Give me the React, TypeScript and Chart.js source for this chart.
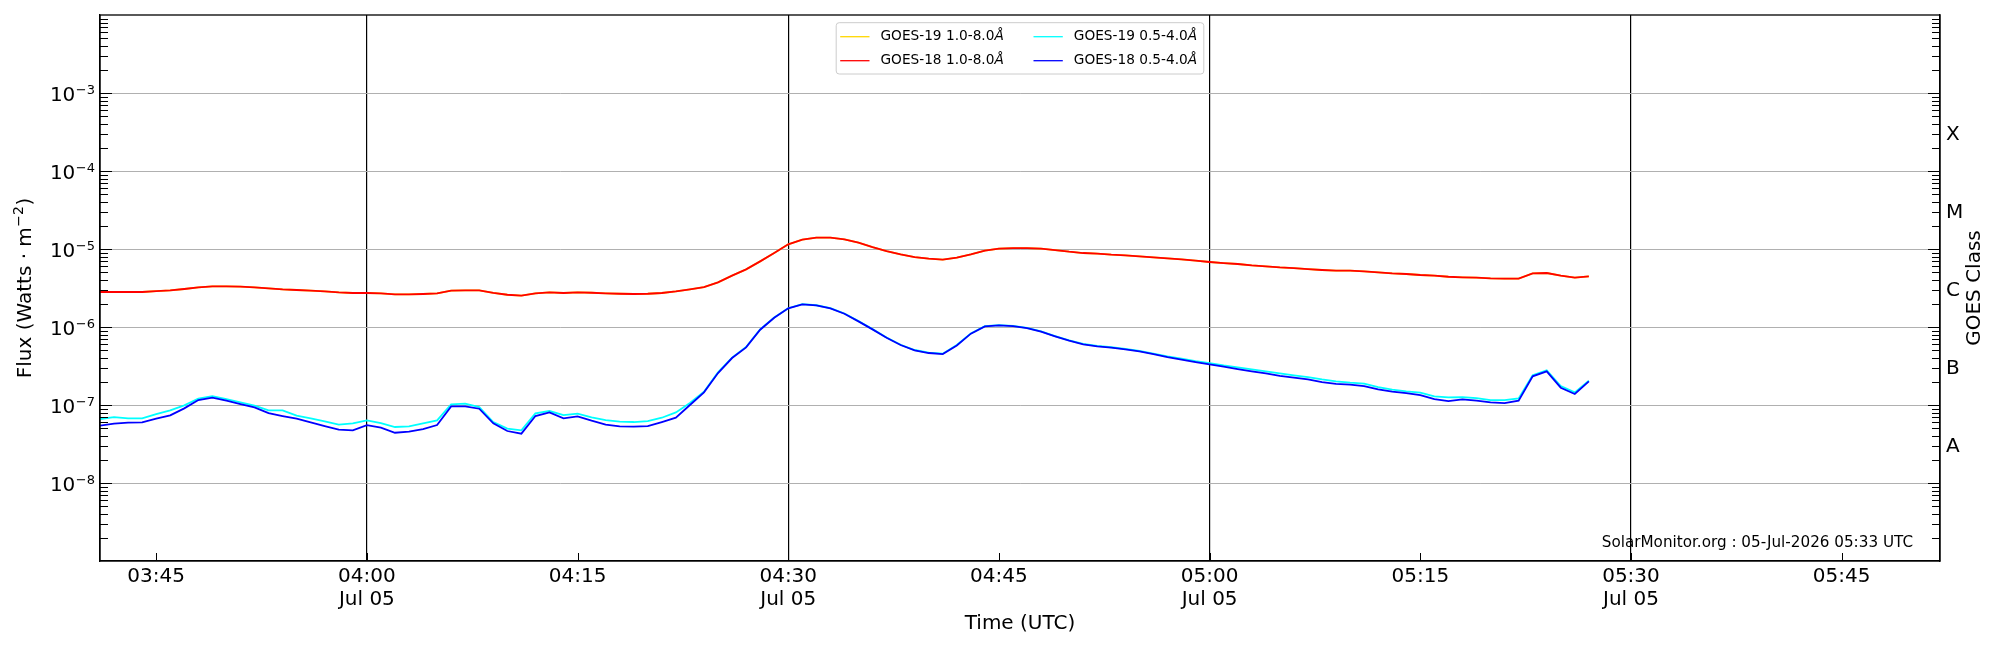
import React, { useEffect, useRef } from 'react';
import { Chart, registerables } from 'chart.js';

Chart.register(...registerables);

// ---------- data ----------
const START_TIME = '03:41';
const CADENCE_MIN = 1;
const X_MIN_TIME = '03:41';
const X_MAX_TIME = '05:52';
const TICK_TIMES = ['03:45', '04:00', '04:15', '04:30', '04:45', '05:00', '05:15', '05:30', '05:45'];
const DATED_TICKS = ['04:00', '04:30', '05:00', '05:30'];
const DATE_LABEL = 'Jul 05';

const Y_MIN = 1e-9;
const Y_MAX = 1e-2;
const Y_TICKS = [1e-8, 1e-7, 1e-6, 1e-5, 1e-4, 1e-3];
const Y_TICK_BASE = '10';
const Y_TICK_EXPONENTS = ['−8', '−7', '−6', '−5', '−4', '−3'];
const CLASS_POSITIONS = [3e-8, 3e-7, 3e-6, 3e-5, 3e-4];
const CLASS_LABELS = ['A', 'B', 'C', 'M', 'X'];

const SERIES_LABELS = ['GOES-19 1.0-8.0', 'GOES-18 1.0-8.0', 'GOES-19 0.5-4.0', 'GOES-18 0.5-4.0'];
const SERIES_UNIT = 'Å';
const SERIES_COLORS = ['#ffd700', '#ff0000', '#00ffff', '#0000ff'];

const GOES19_LONG = [
  2.81e-6, 2.81e-6, 2.81e-6, 2.81e-6, 2.89e-6, 2.95e-6, 3.07e-6, 3.22e-6, 3.32e-6, 3.32e-6,
  3.29e-6, 3.22e-6, 3.13e-6, 3.04e-6, 2.98e-6, 2.92e-6, 2.86e-6, 2.78e-6, 2.73e-6, 2.73e-6,
  2.70e-6, 2.62e-6, 2.62e-6, 2.65e-6, 2.70e-6, 2.92e-6, 2.95e-6, 2.95e-6, 2.73e-6, 2.59e-6,
  2.52e-6, 2.70e-6, 2.78e-6, 2.73e-6, 2.78e-6, 2.75e-6, 2.70e-6, 2.67e-6, 2.65e-6, 2.67e-6,
  2.73e-6, 2.86e-6, 3.04e-6, 3.25e-6, 3.73e-6, 4.55e-6, 5.48e-6, 6.94e-6, 8.88e-6, 1.147e-5,
  1.316e-5, 1.396e-5, 1.396e-5, 1.329e-5, 1.205e-5, 1.06e-5, 9.42e-6, 8.53e-6, 7.89e-6, 7.51e-6,
  7.29e-6, 7.73e-6, 8.53e-6, 9.51e-6, 1.009e-5, 1.029e-5, 1.029e-5, 1.009e-5, 9.70e-6, 9.23e-6,
  8.88e-6, 8.70e-6, 8.45e-6, 8.29e-6, 8.05e-6, 7.81e-6, 7.58e-6, 7.36e-6, 7.08e-6, 6.81e-6,
  6.61e-6, 6.42e-6, 6.17e-6, 5.99e-6, 5.81e-6, 5.70e-6, 5.53e-6, 5.38e-6, 5.27e-6, 5.27e-6,
  5.17e-6, 5.02e-6, 4.87e-6, 4.78e-6, 4.64e-6, 4.55e-6, 4.41e-6, 4.33e-6, 4.29e-6, 4.20e-6,
  4.16e-6, 4.16e-6, 4.87e-6, 4.92e-6, 4.55e-6, 4.29e-6, 4.47e-6,
];

const GOES18_LONG = [
  2.81e-6, 2.81e-6, 2.81e-6, 2.81e-6, 2.89e-6, 2.95e-6, 3.07e-6, 3.22e-6, 3.32e-6, 3.32e-6,
  3.29e-6, 3.22e-6, 3.13e-6, 3.04e-6, 2.98e-6, 2.92e-6, 2.86e-6, 2.78e-6, 2.73e-6, 2.73e-6,
  2.70e-6, 2.62e-6, 2.62e-6, 2.65e-6, 2.70e-6, 2.92e-6, 2.95e-6, 2.95e-6, 2.73e-6, 2.59e-6,
  2.52e-6, 2.70e-6, 2.78e-6, 2.73e-6, 2.78e-6, 2.75e-6, 2.70e-6, 2.67e-6, 2.65e-6, 2.67e-6,
  2.73e-6, 2.86e-6, 3.04e-6, 3.25e-6, 3.73e-6, 4.55e-6, 5.48e-6, 6.94e-6, 8.88e-6, 1.147e-5,
  1.316e-5, 1.396e-5, 1.396e-5, 1.329e-5, 1.205e-5, 1.06e-5, 9.42e-6, 8.53e-6, 7.89e-6, 7.51e-6,
  7.29e-6, 7.73e-6, 8.53e-6, 9.51e-6, 1.009e-5, 1.029e-5, 1.029e-5, 1.009e-5, 9.70e-6, 9.23e-6,
  8.88e-6, 8.70e-6, 8.45e-6, 8.29e-6, 8.05e-6, 7.81e-6, 7.58e-6, 7.36e-6, 7.08e-6, 6.81e-6,
  6.61e-6, 6.42e-6, 6.17e-6, 5.99e-6, 5.81e-6, 5.70e-6, 5.53e-6, 5.38e-6, 5.27e-6, 5.27e-6,
  5.17e-6, 5.02e-6, 4.87e-6, 4.78e-6, 4.64e-6, 4.55e-6, 4.41e-6, 4.33e-6, 4.29e-6, 4.20e-6,
  4.16e-6, 4.16e-6, 4.87e-6, 4.92e-6, 4.55e-6, 4.29e-6, 4.47e-6,
];

const GOES19_SHORT = [
  6.61e-8, 7.01e-8, 6.74e-8, 6.74e-8, 7.66e-8, 8.53e-8, 9.89e-8, 1.204e-7, 1.302e-7, 1.192e-7,
  1.081e-7, 9.79e-8, 8.53e-8, 8.53e-8, 7.29e-8, 6.74e-8, 6.17e-8, 5.59e-8, 5.81e-8, 6.35e-8,
  5.87e-8, 5.22e-8, 5.32e-8, 5.81e-8, 6.35e-8, 1.019e-7, 1.039e-7, 9.42e-8, 6.05e-8, 4.97e-8,
  4.73e-8, 7.81e-8, 8.37e-8, 7.43e-8, 7.73e-8, 6.94e-8, 6.41e-8, 6.11e-8, 6.05e-8, 6.23e-8,
  6.87e-8, 8.04e-8, 1.06e-7, 1.481e-7, 2.62e-7, 4.05e-7, 5.55e-7, 9.3e-7, 1.32e-6, 1.74e-6,
  1.96e-6, 1.90e-6, 1.74e-6, 1.49e-6, 1.19e-6, 9.4e-7, 7.35e-7, 5.92e-7, 5.07e-7, 4.69e-7,
  4.55e-7, 5.87e-7, 8.28e-7, 1.025e-6, 1.055e-6, 1.035e-6, 9.77e-7, 8.77e-7, 7.65e-7, 6.74e-7,
  6.06e-7, 5.72e-7, 5.50e-7, 5.24e-7, 4.93e-7, 4.55e-7, 4.20e-7, 3.92e-7, 3.66e-7, 3.45e-7,
  3.22e-7, 3.04e-7, 2.86e-7, 2.70e-7, 2.54e-7, 2.40e-7, 2.28e-7, 2.13e-7, 2.01e-7, 1.93e-7,
  1.875e-7, 1.70e-7, 1.57e-7, 1.495e-7, 1.438e-7, 1.29e-7, 1.253e-7, 1.265e-7, 1.228e-7, 1.158e-7,
  1.158e-7, 1.216e-7, 2.40e-7, 2.78e-7, 1.75e-7, 1.451e-7, 2.05e-7,
];

const GOES18_SHORT = [
  5.43e-8, 5.76e-8, 5.93e-8, 5.99e-8, 6.67e-8, 7.36e-8, 9.05e-8, 1.158e-7, 1.24e-7, 1.135e-7,
  1.029e-7, 9.32e-8, 7.89e-8, 7.22e-8, 6.67e-8, 5.99e-8, 5.37e-8, 4.82e-8, 4.73e-8, 5.53e-8,
  5.12e-8, 4.41e-8, 4.55e-8, 4.92e-8, 5.53e-8, 9.60e-8, 9.60e-8, 8.96e-8, 5.81e-8, 4.64e-8,
  4.29e-8, 7.22e-8, 8.04e-8, 6.74e-8, 7.15e-8, 6.29e-8, 5.59e-8, 5.32e-8, 5.27e-8, 5.37e-8,
  6.05e-8, 6.87e-8, 9.99e-8, 1.451e-7, 2.57e-7, 4.00e-7, 5.48e-7, 9.23e-7, 1.316e-6, 1.733e-6,
  1.95e-6, 1.894e-6, 1.733e-6, 1.481e-6, 1.181e-6, 9.32e-7, 7.29e-7, 5.87e-7, 5.02e-7, 4.64e-7,
  4.50e-7, 5.81e-7, 8.21e-7, 1.019e-6, 1.049e-6, 1.029e-6, 9.70e-7, 8.70e-7, 7.58e-7, 6.67e-7,
  5.99e-7, 5.65e-7, 5.43e-7, 5.17e-7, 4.87e-7, 4.50e-7, 4.12e-7, 3.81e-7, 3.55e-7, 3.32e-7,
  3.10e-7, 2.89e-7, 2.70e-7, 2.54e-7, 2.37e-7, 2.24e-7, 2.13e-7, 1.97e-7, 1.86e-7, 1.82e-7,
  1.75e-7, 1.586e-7, 1.481e-7, 1.423e-7, 1.342e-7, 1.192e-7, 1.124e-7, 1.181e-7, 1.135e-7, 1.081e-7,
  1.06e-7, 1.135e-7, 2.33e-7, 2.70e-7, 1.666e-7, 1.382e-7, 2.01e-7,
];

const SERIES_VALUES = [GOES19_LONG, GOES18_LONG, GOES19_SHORT, GOES18_SHORT];

const X_TITLE = 'Time (UTC)';
const Y_TITLE_PARTS = ['Flux (Watts · m', '−2', ')'];
const Y2_TITLE = 'GOES Class';
const STAMP = 'SolarMonitor.org : 05-Jul-2026 05:33 UTC';

// ---------- helpers ----------
const FONT = '"DejaVu Sans", "Liberation Sans", sans-serif';
const toMin = (s: string) => {
  const [h, m] = s.split(':').map(Number);
  return h * 60 + m;
};
const fmt = (v: number) => {
  const h = Math.floor(v / 60);
  const m = Math.round(v - h * 60);
  return `${String(h).padStart(2, '0')}:${String(m).padStart(2, '0')}`;
};
const noPad = (s: any) => {
  s.paddingTop = 0;
  s.paddingBottom = 0;
  s.paddingLeft = 0;
  s.paddingRight = 0;
};

const decorPlugin = {
  id: 'decor',
  afterDraw(chart: any) {
    const { ctx, chartArea } = chart;
    const { left, right, top, bottom } = chartArea;
    const ys = chart.scales.y;
    const xs = chart.scales.x;
    ctx.save();

    // minor / major ticks on left & right, pointing inward
    ctx.strokeStyle = '#000';
    ctx.lineWidth = 1;
    for (let e = -9; e <= -2; e++) {
      for (let m = 1; m <= 9; m++) {
        const v = m * Math.pow(10, e);
        if (v <= Y_MIN * 1.001 || v >= Y_MAX * 0.999) continue;
        const py = Math.round(ys.getPixelForValue(v)) + 0.5;
        const len = m === 1 ? 12 : 8;
        ctx.beginPath();
        ctx.moveTo(left, py);
        ctx.lineTo(left + len, py);
        ctx.moveTo(right, py);
        ctx.lineTo(right - len, py);
        ctx.stroke();
      }
    }
    // x ticks, inward
    TICK_TIMES.forEach((t) => {
      const px = Math.round(xs.getPixelForValue(toMin(t))) + 0.5;
      ctx.beginPath();
      ctx.moveTo(px, bottom);
      ctx.lineTo(px, bottom - 8);
      ctx.stroke();
    });

    // frame
    ctx.lineWidth = 1.3;
    ctx.strokeRect(left, top, right - left, bottom - top);

    // y tick labels 10^n
    ctx.fillStyle = '#000';
    ctx.textBaseline = 'alphabetic';
    ctx.textAlign = 'right';
    Y_TICKS.forEach((v, i) => {
      const py = ys.getPixelForValue(v);
      ctx.font = `13px ${FONT}`;
      const ex = Y_TICK_EXPONENTS[i];
      const ew = ctx.measureText(ex).width;
      const xr = left - 5;
      ctx.fillText(ex, xr, py + 0.9);
      ctx.font = `20px ${FONT}`;
      ctx.fillText(Y_TICK_BASE, xr - ew - 0.5, py + 8.4);
    });

    // y title with superscript
    ctx.save();
    ctx.translate(30.5, (top + bottom) / 2);
    ctx.rotate(-Math.PI / 2);
    ctx.textAlign = 'left';
    ctx.textBaseline = 'alphabetic';
    ctx.font = `20px ${FONT}`;
    const w0 = ctx.measureText(Y_TITLE_PARTS[0]).width;
    const w2 = ctx.measureText(Y_TITLE_PARTS[2]).width;
    ctx.font = `14px ${FONT}`;
    const w1 = ctx.measureText(Y_TITLE_PARTS[1]).width;
    const total = w0 + w1 + w2 + 1;
    let x0 = -total / 2;
    ctx.font = `20px ${FONT}`;
    ctx.fillText(Y_TITLE_PARTS[0], x0, 0);
    x0 += w0 + 0.5;
    ctx.font = `14px ${FONT}`;
    ctx.fillText(Y_TITLE_PARTS[1], x0, -8);
    x0 += w1 + 0.5;
    ctx.font = `20px ${FONT}`;
    ctx.fillText(Y_TITLE_PARTS[2], x0, 0);
    ctx.restore();

    // legend
    const cx = (left + right) / 2;
    const bw = 367.6;
    const bh = 51.3;
    const bx = cx - bw / 2;
    const by = top + 7.7;
    ctx.beginPath();
    const r = 3;
    ctx.moveTo(bx + r, by);
    ctx.lineTo(bx + bw - r, by);
    ctx.arcTo(bx + bw, by, bx + bw, by + r, r);
    ctx.lineTo(bx + bw, by + bh - r);
    ctx.arcTo(bx + bw, by + bh, bx + bw - r, by + bh, r);
    ctx.lineTo(bx + r, by + bh);
    ctx.arcTo(bx, by + bh, bx, by + bh - r, r);
    ctx.lineTo(bx, by + r);
    ctx.arcTo(bx, by, bx + r, by, r);
    ctx.closePath();
    ctx.fillStyle = 'rgba(255,255,255,0.8)';
    ctx.fill();
    ctx.strokeStyle = '#cccccc';
    ctx.lineWidth = 1;
    ctx.stroke();

    const colX = [bx + 4, bx + 197.3];
    const rowY = [by + 14, by + 38];
    SERIES_LABELS.forEach((lab, i) => {
      const col = Math.floor(i / 2);
      const row = i % 2;
      const hx = colX[col];
      const hy = rowY[row];
      ctx.strokeStyle = SERIES_COLORS[i];
      ctx.lineWidth = 1.3;
      ctx.beginPath();
      ctx.moveTo(hx, hy);
      ctx.lineTo(hx + 29.3, hy);
      ctx.stroke();
      ctx.fillStyle = '#000';
      ctx.textAlign = 'left';
      ctx.textBaseline = 'middle';
      ctx.font = `13.7px ${FONT}`;
      ctx.fillText(lab, hx + 40.3, hy);
      const w = ctx.measureText(lab).width;
      ctx.font = `italic 13.7px ${FONT}`;
      ctx.fillText(SERIES_UNIT, hx + 40.3 + w, hy);
    });

    // stamp
    ctx.fillStyle = '#000';
    ctx.font = `15.2px ${FONT}`;
    ctx.textAlign = 'right';
    ctx.textBaseline = 'middle';
    ctx.fillText(STAMP, right - 27, bottom - 18);

    // right title
    ctx.translate(right + 35, (top + bottom) / 2);
    ctx.rotate(-Math.PI / 2);
    ctx.font = `20px ${FONT}`;
    ctx.textAlign = 'center';
    ctx.textBaseline = 'middle';
    ctx.fillText(Y2_TITLE, 0, 0);
    ctx.restore();
  },
};

export default function App() {
  const ref = useRef<HTMLCanvasElement | null>(null);
  useEffect(() => {
    if (!ref.current) return;
    Chart.defaults.color = '#000';
    Chart.defaults.font.family = FONT;
    const start = toMin(START_TIME);
    const datasets = SERIES_VALUES.map((vals, i) => ({
      label: SERIES_LABELS[i] + SERIES_UNIT,
      data: vals.map((v, k) => ({ x: start + k * CADENCE_MIN, y: v })),
      borderColor: SERIES_COLORS[i],
      backgroundColor: SERIES_COLORS[i],
      borderWidth: 1.8,
      pointRadius: 0,
      tension: 0,
      fill: false,
      order: 4 - i,
    }));
    const chart = new Chart(ref.current, {
      type: 'line',
      data: { datasets },
      options: {
        animation: false,
        responsive: true,
        maintainAspectRatio: false,
        layout: { padding: { top: 15, left: 0, right: 0, bottom: 0 } },
        plugins: { legend: { display: false }, tooltip: { enabled: false } },
        scales: {
          x: {
            type: 'linear',
            min: toMin(X_MIN_TIME),
            max: toMin(X_MAX_TIME),
            afterBuildTicks: (s: any) => {
              s.ticks = TICK_TIMES.map((t) => ({ value: toMin(t) }));
            },
            afterFit: (s: any) => {
              s.height = 89;
              noPad(s);
            },
            ticks: {
              autoSkip: false,
              maxRotation: 0,
              padding: 4,
              font: { size: 20, lineHeight: 1.15 },
              callback: (v: any) => {
                const s = fmt(Number(v));
                return DATED_TICKS.includes(s) ? [s, DATE_LABEL] : s;
              },
            },
            grid: {
              drawTicks: false,
              color: (c: any) =>
                c.tick && DATED_TICKS.includes(fmt(c.tick.value)) ? '#000' : 'rgba(0,0,0,0)',
              lineWidth: 1.2,
            },
            border: { display: true, color: '#000', width: 1.3 },
            title: {
              display: true,
              text: X_TITLE,
              font: { size: 20, lineHeight: 1.2 },
              padding: { top: 0, bottom: 14 },
            },
          },
          y: {
            type: 'logarithmic',
            position: 'left',
            min: Y_MIN,
            max: Y_MAX,
            afterBuildTicks: (s: any) => {
              s.ticks = Y_TICKS.map((v) => ({ value: v }));
            },
            afterFit: (s: any) => {
              s.width = 100;
              noPad(s);
            },
            ticks: { display: false },
            grid: { drawTicks: false, color: '#b0b0b0', lineWidth: 1 },
            border: { display: true, color: '#000', width: 1.3 },
          },
          y2: {
            type: 'logarithmic',
            position: 'right',
            min: Y_MIN,
            max: Y_MAX,
            afterBuildTicks: (s: any) => {
              s.ticks = CLASS_POSITIONS.map((v) => ({ value: v }));
            },
            afterFit: (s: any) => {
              s.width = 60;
              noPad(s);
            },
            ticks: {
              autoSkip: false,
              padding: 6,
              labelOffset: 1.5,
              font: { size: 20 },
              callback: (_v: any, i: number) => CLASS_LABELS[i],
            },
            grid: { display: false, drawTicks: false },
            border: { display: true, color: '#000', width: 1.3 },
          },
        },
      },
      plugins: [decorPlugin],
    });
    return () => chart.destroy();
  }, []);
  return (
    <div style={{ position: 'absolute', left: 0, top: 0, width: 2000, height: 650, background: '#fff' }}>
      <canvas ref={ref} />
    </div>
  );
}
